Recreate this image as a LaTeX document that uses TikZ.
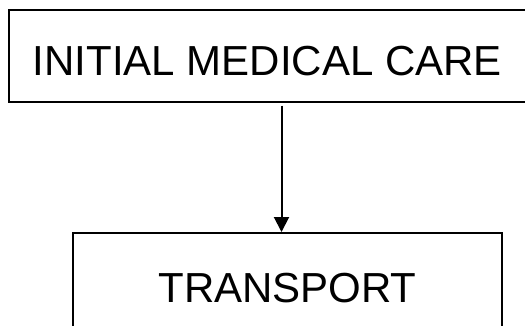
\documentclass[tikz,border=0pt]{standalone}
\usepackage{fontspec}
\setmainfont{Liberation Sans}
\usetikzlibrary{arrows.meta}
\begin{document}
\begin{tikzpicture}[x=1pt,y=-1pt,
  stage/.style={draw=black, line width=2pt, rectangle, inner sep=0pt,
    font=\fontsize{42}{48}\selectfont, text depth=0pt},
  flow/.style={line width=2pt, -{Triangle[width=15pt,length=15pt]}}]
  \useasboundingbox (0,0) rectangle (525,325);
  \clip (0,0) rectangle (525,325);
  \node[stage, minimum width=517pt, minimum height=91.5pt, text height=38.5pt]
    (care) at (267.5,55.75) {INITIAL MEDICAL CARE};
  \node[stage, minimum width=429pt, minimum height=106pt, text height=32pt]
    (transport) at (287.5,286) {TRANSPORT};
  \coordinate (ax) at (281.5,0);
  \draw[flow, shorten <=3pt] (care.south -| ax) -- (transport.north -| ax);
\end{tikzpicture}
\end{document}
